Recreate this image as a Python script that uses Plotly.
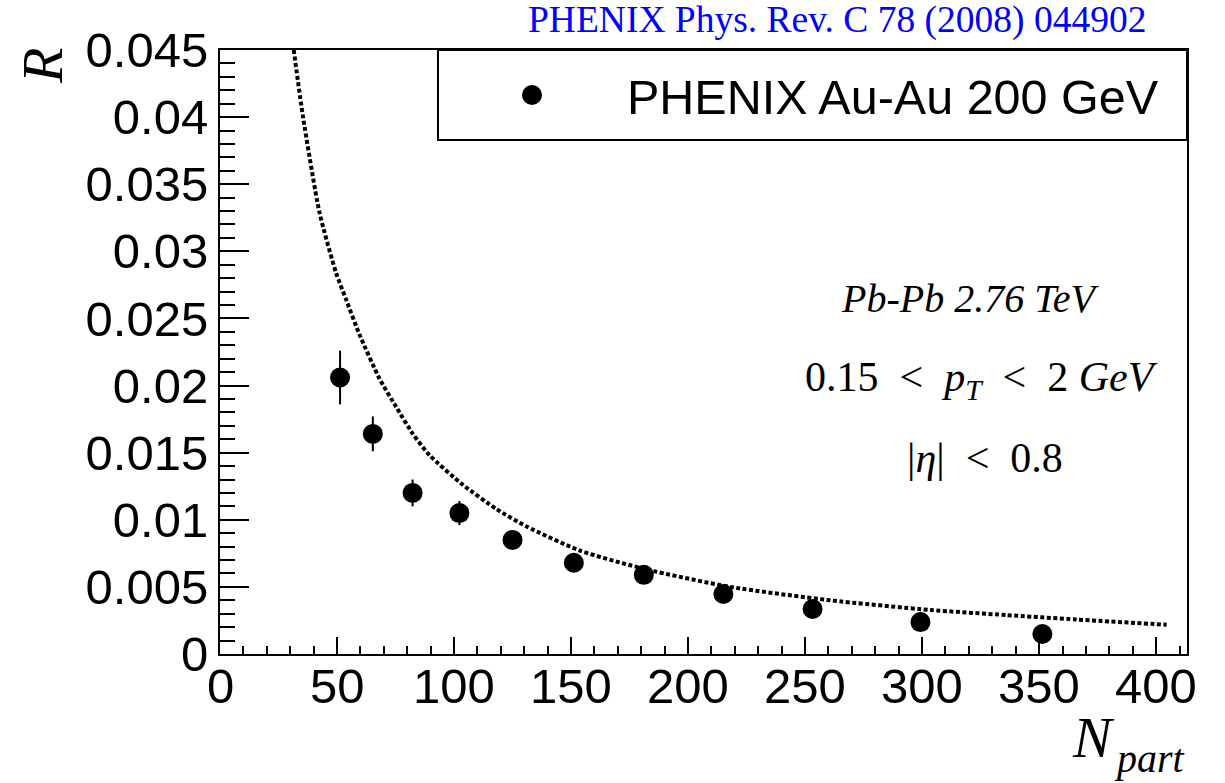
import plotly.graph_objects as go

# ---- data ----
npart = [51.3, 65.3, 82.3, 102.3, 125.0, 151.2, 181.1, 215.1, 253.2, 299.3, 351.4]
r_val = [0.0206, 0.0164, 0.0120, 0.0105, 0.0085, 0.0068, 0.0059, 0.00447, 0.00335, 0.00238, 0.00149]
r_err = [0.0020, 0.0013, 0.0010, 0.0009, 0.0006, 0.0005, 0.0004, 0.0003, 0.0003, 0.0002, 0.0002]

curve_n = [31.5, 35.4, 42.5, 49.6, 53.9, 59.6, 68.2, 75.3, 82.4, 89.6, 103.8, 118.1, 131.0,
           153.8, 182.3, 218.0, 260.7, 303.5, 336.0, 366.0, 404.5]
curve_r = [0.0450, 0.0401, 0.0329, 0.0284, 0.0264, 0.0238, 0.0205, 0.0184, 0.0164, 0.0148,
           0.0126, 0.0108, 0.0095, 0.0077, 0.0063, 0.0050, 0.0040, 0.00328, 0.0029, 0.00257, 0.00218]

x_ticks = [0, 50, 100, 150, 200, 250, 300, 350, 400]
x_tick_labels = ["0", "50", "100", "150", "200", "250", "300", "350", "400"]

x_range = [0, 413.2]
y_range = [0, 0.045]

# plot area in pixels
L, R, T, B = 220, 1187, 50, 654
W, H = 1225, 783


def px(x):
    return (x - L) / (R - L)


def py(y):
    return (B - y) / (B - T)


fig = go.Figure()

fig.add_trace(go.Scatter(
    x=curve_n, y=curve_r, mode="lines",
    line=dict(color="black", width=4, dash="4px,2.5px", shape="spline", smoothing=0.6),
    showlegend=False, hoverinfo="skip"))

fig.add_trace(go.Scatter(
    x=npart, y=r_val, mode="markers",
    marker=dict(color="black", size=20),
    error_y=dict(type="data", array=r_err, color="black", thickness=2, width=0),
    showlegend=False))

serif = "Liberation Serif, Times New Roman, serif"
sans = "Liberation Sans, Arial, sans-serif"
sp = "&nbsp;"

shapes = [
    dict(type="rect", xref="paper", yref="paper", x0=px(438), x1=px(1187), y0=py(140), y1=py(50),
         line=dict(color="black", width=2), fillcolor="white", layer="below"),
    dict(type="circle", xref="paper", yref="paper", x0=px(522), x1=px(542), y0=py(105), y1=py(85),
         line=dict(color="black", width=0), fillcolor="black"),
]

annotations = [
    dict(text="PHENIX Au-Au 200 GeV", x=px(625), y=py(97), xanchor="left", yanchor="middle",
         font=dict(family=sans, size=48.5, color="black")),
    dict(text="PHENIX Phys. Rev. C 78 (2008) 044902", x=px(1148), y=py(20), xanchor="right",
         yanchor="middle", font=dict(family=serif, size=37.5, color="#0000ff")),
    dict(text="<i>Pb-Pb 2.76 TeV</i>", x=px(970), y=py(298), xanchor="center", yanchor="middle",
         font=dict(family=serif, size=40, color="black")),
    dict(text="0.15" + sp * 2 + "&lt;" + sp * 2 + "<i>p</i><sub><i>T</i></sub>" + sp * 2 + "&lt;"
              + sp * 2 + "2 <i>GeV</i>",
         x=px(981), y=py(380), xanchor="center", yanchor="middle",
         font=dict(family=serif, size=42, color="black")),
    dict(text="|<i>η</i>|" + sp * 2 + "&lt;" + sp * 2 + "0.8", x=px(985), y=py(458),
         xanchor="center", yanchor="middle", font=dict(family=serif, size=42, color="black")),
    dict(text="<i>R</i>", x=px(42), y=py(66), xanchor="center", yanchor="middle", textangle=-90,
         font=dict(family=serif, size=58, color="black")),
    dict(text="<i>N</i>", x=px(1093), y=py(737), xanchor="center", yanchor="middle",
         font=dict(family=serif, size=58, color="black")),
    dict(text="<i>part</i>", x=px(1149), y=py(758), xanchor="center", yanchor="middle",
         font=dict(family=serif, size=40, color="black")),
]
for a in annotations:
    a.update(xref="paper", yref="paper", showarrow=False)

# x tick labels placed at their data positions along the axis
for v, lab in zip(x_ticks, x_tick_labels):
    annotations.append(dict(text=lab, x=v, xref="x", y=py(686), yref="paper",
                            xanchor="center", yanchor="middle", showarrow=False,
                            font=dict(family=sans, size=49, color="black")))

fig.update_layout(
    width=W, height=H,
    margin=dict(l=L, r=W - R, t=T, b=H - B),
    paper_bgcolor="white", plot_bgcolor="white",
    shapes=shapes, annotations=annotations,
    xaxis=dict(range=x_range, tickvals=x_ticks, showticklabels=False, ticks="inside",
               ticklen=17, tickwidth=2,
               tickcolor="black", showline=True, linecolor="black", linewidth=2, mirror=True,
               showgrid=False, zeroline=False,
               minor=dict(dtick=10, tick0=0, ticks="inside", ticklen=8, tickwidth=2,
                          tickcolor="black", showgrid=False)),
    yaxis=dict(range=y_range, dtick=0.005, tick0=0, ticks="inside", ticklen=29, tickwidth=2,
               tickcolor="black", showline=True, linecolor="black", linewidth=2, mirror=True,
               showgrid=False, zeroline=False,
               tickfont=dict(family=sans, size=49, color="black"),
               minor=dict(dtick=0.001, ticks="inside", ticklen=15, tickwidth=2, tickcolor="black",
                          showgrid=False)),
)

fig.write_html("out.html")
